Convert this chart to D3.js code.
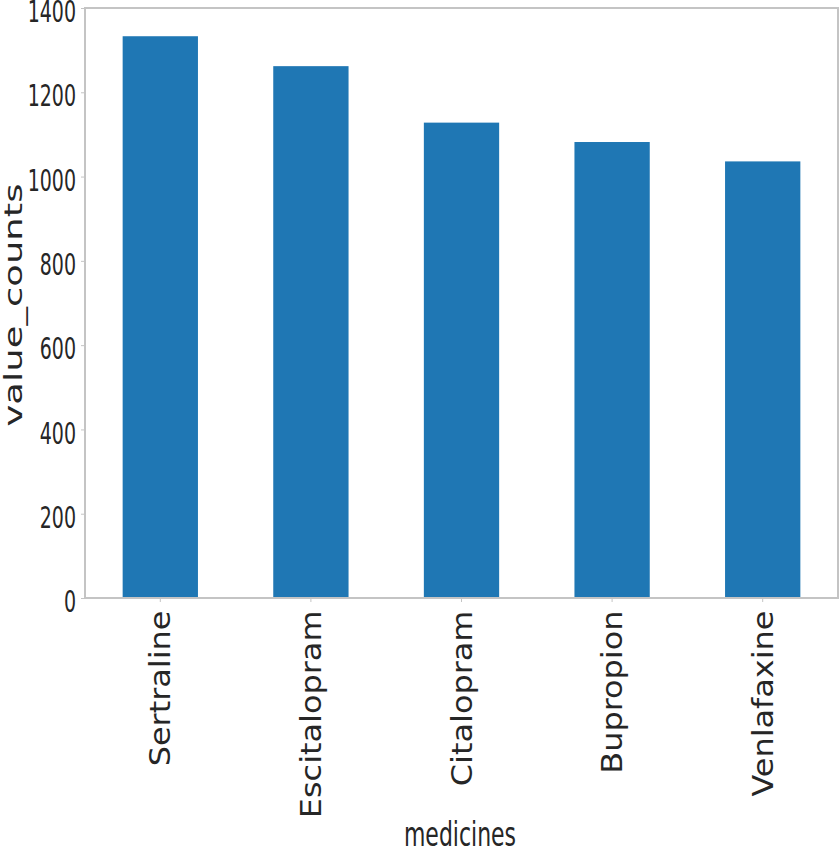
<!DOCTYPE html>
<html>
<head>
<meta charset="utf-8">
<script src="https://cdn.jsdelivr.net/npm/d3@7"></script>
<style>
  body { margin: 0; background: #fff; }
  svg { display: block; }
</style>
</head>
<body>
<svg id="chart" width="840" height="853"></svg>
<script>
const categories = ["Sertraline", "Escitalopram", "Citalopram", "Bupropion", "Venlafaxine"];
const values = [1333, 1262, 1128, 1082, 1036];
const yTicks = [0, 200, 400, 600, 800, 1000, 1200, 1400];

const W = 840, H = 853;
const margin = { left: 85, top: 8, right: 2, bottom: 255 };
const svg = d3.select("#chart");

const x = d3.scaleBand().domain(categories)
  .range([margin.left, W - margin.right]).paddingInner(0.5).paddingOuter(0.25);
const y = d3.scaleLinear().domain([0, 1400]).range([H - margin.bottom, margin.top]);

const font = "'DejaVu Sans', sans-serif";
const textColor = "#262626";
const spineColor = "#c4c4c4";

// bars
svg.append("g").selectAll("rect").data(categories).join("rect")
  .attr("x", d => x(d))
  .attr("width", x.bandwidth())
  .attr("y", (d, i) => y(values[i]))
  .attr("height", (d, i) => y(0) - y(values[i]))
  .attr("fill", "#1f77b4");

// y axis
const gy = svg.append("g")
  .attr("transform", `translate(${margin.left},0)`)
  .call(d3.axisLeft(y).tickValues(yTicks).tickSize(4).tickPadding(5).tickFormat(d3.format("d")));
gy.select(".domain").remove();
gy.selectAll(".tick line").attr("stroke", spineColor).attr("stroke-width", 1);
gy.selectAll(".tick text")
  .attr("fill", textColor)
  .style("font-family", font)
  .style("font-size", "19px")
  .attr("dy", "0.45em")
  .attr("transform", "scale(1,1.6)");

// x axis
const gx = svg.append("g")
  .attr("transform", `translate(0,${y(0)})`)
  .call(d3.axisBottom(x).tickSize(4));
gx.select(".domain").remove();
gx.selectAll(".tick line").attr("stroke", spineColor).attr("stroke-width", 1);
gx.selectAll(".tick text")
  .attr("fill", textColor)
  .style("font-family", font)
  .style("font-size", "28px")
  .attr("text-anchor", "end")
  .attr("x", -11)
  .attr("y", 0)
  .attr("dy", "0.36em")
  .attr("transform", "rotate(-90) scale(1.14,1)");

// spines (frame)
svg.append("rect")
  .attr("x", margin.left).attr("y", margin.top)
  .attr("width", W - margin.left - margin.right)
  .attr("height", H - margin.top - margin.bottom)
  .attr("fill", "none")
  .attr("stroke", spineColor)
  .attr("stroke-width", 2);

// axis titles
svg.append("text")
  .attr("transform", "translate(460,846) scale(1,1.5)")
  .attr("text-anchor", "middle")
  .attr("fill", textColor)
  .style("font-family", font)
  .style("font-size", "22px")
  .text("medicines");

svg.append("text")
  .attr("transform", "translate(22,305) rotate(-90) scale(1.48,1)")
  .attr("text-anchor", "middle")
  .attr("fill", textColor)
  .style("font-family", font)
  .style("font-size", "25px")
  .text("value_counts");
</script>
</body>
</html>
